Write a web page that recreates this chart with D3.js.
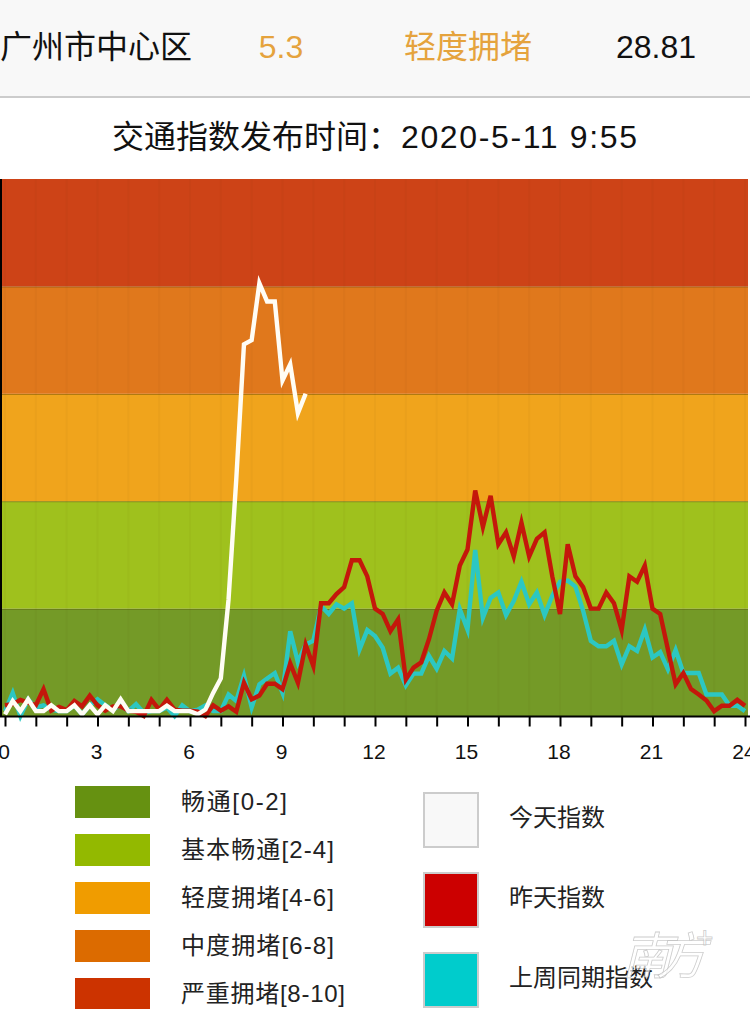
<!DOCTYPE html>
<html><head><meta charset="utf-8">
<script src="https://cdnjs.cloudflare.com/ajax/libs/d3/7.8.5/d3.min.js"></script>
<style>
html,body{margin:0;padding:0;background:#fff;overflow:hidden}
svg{display:block}
text{font-family:"Liberation Sans","Noto Sans CJK SC",sans-serif}
</style></head><body>
<svg id="c" width="750" height="1009"></svg>
<script>
const todayValues=[.03,.28,.09,.31,.09,.09,.2,.09,.09,.2,.03,.2,.03,.2,.09,.31,.09,.09,.09,.09,.09,.19,.09,.09,.09,.03,.12,.43,.7,2.17,4.4,6.92,7.0,8.06,7.72,7.72,6.25,6.55,5.64,6.0];
const yesterdayValues=[.2,.22,.3,.25,.2,.5,.1,.17,.11,.28,.18,.38,.2,.1,.18,.18,.1,.08,0,.3,.12,.3,.12,.1,.1,.08,0,.2,.1,.18,.08,.62,.31,.38,.6,.6,.5,.98,.62,1.33,.93,2.1,2.1,2.27,2.4,2.9,2.9,2.6,2.0,1.9,1.58,1.8,.68,.9,1.0,1.43,1.96,2.3,2.08,2.8,3.1,4.2,3.52,4.1,3.2,3.42,2.97,3.6,2.97,3.3,3.42,2.6,1.9,3.2,2.6,2.4,2.0,2.0,2.3,2.1,1.6,2.6,2.5,2.8,2.0,1.9,1.24,.59,.8,.5,.4,.29,.09,.19,.19,.3,.19];
const lastWeekValues=[.09,.43,0,.31,.16,.2,.12,.09,.09,.2,.03,.2,.31,.2,.12,.2,.09,.22,.06,.09,.09,.16,0,.2,.09,.12,.2,.09,.09,.4,.28,.75,.16,.59,.7,.8,.43,1.58,1.0,1.33,1.4,2.05,1.9,2.08,2.0,2.1,1.24,1.6,1.49,1.27,.79,.9,.57,.79,.79,1.12,.88,1.21,1.07,1.99,1.61,3.09,1.83,2.2,2.3,1.88,2.14,2.5,2.08,2.3,1.88,2.24,2.5,2.52,2.41,1.96,1.4,1.3,1.3,1.4,.96,1.3,1.21,1.61,1.09,1.19,.87,1.23,.8,.8,.8,.4,.4,.4,.19,.19,.09];
const stepHours=.25;
const hourTicks=d3.range(0,25);
const labelledHours=[0,3,6,9,12,15,18,21,24];
const bandBreaks=[0,2,4,6,8,10];
const bandColors=["#749a27","#9fc11d","#f0a41c","#e0781c","#cd4317"];
const levelLabels=["畅通[0-2]","基本畅通[2-4]","轻度拥堵[4-6]","中度拥堵[6-8]","严重拥堵[8-10]"];
const levelColors=["#669111","#93b900","#f09c00","#dc6b00","#cc3300"];
const seriesLabels=["今天指数","昨天指数","上周同期指数"];
const seriesColors=["#f8f8f8","#cc0000","#00cccc"];

const svg=d3.select("#c");
// header
svg.append("rect").attr("width",750).attr("height",97).attr("fill","#f8f8f8");
svg.append("rect").attr("y",96).attr("width",750).attr("height",2).attr("fill","#ccc");
const head=(s,x,c,a)=>svg.append("text").attr("x",x).attr("y",58).attr("font-size",32).attr("fill",c).attr("text-anchor",a||"start").text(s);
head("广州市中心区",0,"#111");
head("5.3",281,"#e5a33d","middle");
head("轻度拥堵",404,"#e5a33d");
head("28.81",656,"#111","middle");
svg.append("text").attr("x",112).attr("y",148).attr("font-size",32).attr("fill","#111").text("交通指数发布时间：");
svg.append("text").attr("x",401).attr("y",148).attr("font-size",32).attr("fill","#111").attr("textLength",236).attr("lengthAdjust","spacing").text("2020-5-11 9:55");

// chart
const x=d3.scaleLinear().domain([0,24]).range([5,745]);
const y=d3.scaleLinear().domain([0,10]).range([716,179]);
const bands=svg.append("g");
bandColors.forEach((c,i)=>{
  bands.append("rect").attr("x",2).attr("width",746)
    .attr("y",y(bandBreaks[i+1])).attr("height",y(bandBreaks[i])-y(bandBreaks[i+1])).attr("fill",c);
  if(i<4) bands.append("line").attr("x1",2).attr("x2",748).attr("y1",y(bandBreaks[i+1])+.5).attr("y2",y(bandBreaks[i+1])+.5)
    .attr("stroke","rgba(80,60,0,.4)").attr("stroke-width",1.2);
});
svg.append("g").selectAll("line").data(hourTicks).join("line")
  .attr("x1",d=>x(d)).attr("x2",d=>x(d)).attr("y1",179).attr("y2",716)
  .attr("stroke","rgba(90,50,0,.035)").attr("stroke-width",2);
svg.append("rect").attr("x",0).attr("y",179).attr("width",2).attr("height",538).attr("fill","#000");

const line=d3.line().x((d,i)=>x(i*stepHours)).y(d=>y(d));
const draw=(v,c)=>svg.append("path").attr("d",line(v)).attr("fill","none").attr("stroke",c)
  .attr("stroke-width",4.4).attr("stroke-linejoin","miter").attr("stroke-miterlimit",5);
draw(lastWeekValues,"#2cc7c2");
draw(yesterdayValues,"#c4170b");
draw(todayValues,"#fffdf5");

const axis=d3.axisBottom(x).tickValues(hourTicks).tickSize(10).tickPadding(18)
  .tickFormat(d=>labelledHours.includes(d)?d:"");
const ax=svg.append("g").attr("transform","translate(0,716.5)").call(axis);
ax.select(".domain").attr("stroke","#000").attr("stroke-width",2).attr("d","M0,0H750");
ax.selectAll(".tick line").attr("stroke","#000").attr("stroke-width",2);
ax.selectAll(".tick text").attr("font-family","DejaVu Sans").attr("font-size",21).attr("fill","#111").attr("dx",-1.5);

// legends
const levelWidths=[106,153,153,153,164];
const lev=svg.append("g");
levelLabels.forEach((t,i)=>{
  const top=786+48*i;
  lev.append("rect").attr("x",75).attr("y",top).attr("width",75).attr("height",32).attr("fill",levelColors[i]);
  lev.append("text").attr("x",181).attr("y",top+24).attr("font-size",24).attr("fill","#222")
    .attr("textLength",levelWidths[i]).attr("lengthAdjust","spacing").text(t);
});
const ser=svg.append("g");
seriesLabels.forEach((t,i)=>{
  const top=793+80*i;
  ser.append("rect").attr("x",424).attr("y",top).attr("width",54).attr("height",54).attr("fill",seriesColors[i]).attr("stroke","#ccc").attr("stroke-width",2);
  ser.append("text").attr("x",509).attr("y",top+33).attr("font-size",24).attr("fill","#222").text(t);
});
// watermark
svg.append("text").attr("x",622).attr("y",974).attr("font-size",50).attr("font-style","italic")
  .attr("fill","rgba(255,255,255,.7)").attr("stroke","rgba(170,170,170,.6)").attr("stroke-width",.8)
  .attr("textLength",84).text("南方");
svg.append("text").attr("x",696).attr("y",948).attr("font-size",30)
  .attr("fill","rgba(255,255,255,.8)").attr("stroke","rgba(170,170,170,.6)").attr("stroke-width",.8).text("+");
</script>
</body></html>
